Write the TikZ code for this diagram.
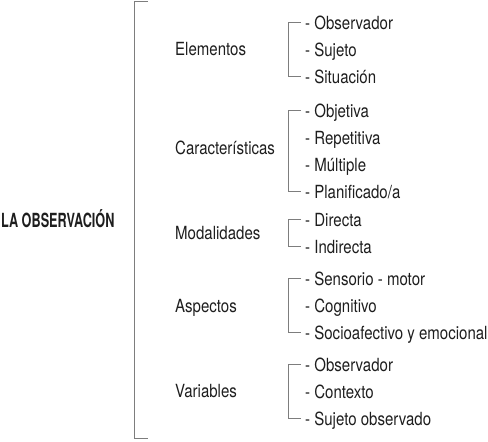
\documentclass[tikz,border=0pt]{standalone}
\usepackage{fontspec}
\setmainfont{TeX Gyre Heros}[FakeStretch=0.83]
\newfontfamily\titlefont{TeX Gyre Heros}[FakeStretch=0.65]
\definecolor{linegray}{RGB}{125,125,125}
\definecolor{ink}{RGB}{30,30,30}

\begin{document}
\begin{tikzpicture}[x=1pt,y=-1pt,font=\fontsize{18.1}{20}\selectfont,text=ink,
	group/.style={anchor=base west,inner sep=0pt},
	item/.style={anchor=base west,inner xsep=4pt,inner ysep=0pt,text height=15pt,text depth=2pt},
	brk/.style={draw=linegray,line width=0.9pt}]
	\useasboundingbox (0,0) rectangle (488,442);

	\node[group,font=\titlefont\bfseries\fontsize{19.5}{20}\selectfont] (obs) at (1,227.3) {LA OBSERVACIÓN};
	\coordinate (btop) at (134.5,1);
	\coordinate (bbot) at (134.5,438);

	\node[group] (ele) at (175,55) {Elementos};
	\node[group] (car) at (175,154) {Características};
	\node[group] (mod) at (175,239.5) {Modalidades};
	\node[group] (asp) at (175,312) {Aspectos};
	\node[group] (var) at (175,397) {Variables};

	\node[item] (e1) at (301,29) {- Observador};
	\node[item] (e2) at (301,56) {- Sujeto};
	\node[item] (e3) at (301,83) {- Situación};

	\node[item] (c1) at (301,117) {- Objetiva};
	\node[item] (c2) at (301,144) {- Repetitiva};
	\node[item] (c3) at (301,171) {- Múltiple};
	\node[item] (c4) at (301,198) {- Planificado/a};

	\node[item] (m1) at (301,226) {- Directa};
	\node[item] (m2) at (301,253) {- Indirecta};

	\node[item] (a1) at (301,285) {- Sensorio - motor};
	\node[item] (a2) at (301,312) {- Cognitivo};
	\node[item] (a3) at (301,339) {- Socioafectivo y emocional};

	\node[item] (v1) at (301,371) {- Observador};
	\node[item] (v2) at (301,398) {- Contexto};
	\node[item] (v3) at (301,425) {- Sujeto observado};

	\draw[brk] ([xshift=13.5pt]btop) -- (btop) -- (bbot) -- ([xshift=13.5pt]bbot);
	\draw[brk] (e1.west) -- ++(-13,0) |- (e3.west);
	\draw[brk] (c1.west) -- ++(-13,0) |- (c4.west);
	\draw[brk] (m1.west) -- ++(-13,0) |- (m2.west);
	\draw[brk] (a1.west) -- ++(-13,0) |- (a3.west);
	\draw[brk] (v1.west) -- ++(-13,0) |- (v3.west);
\end{tikzpicture}
\end{document}
